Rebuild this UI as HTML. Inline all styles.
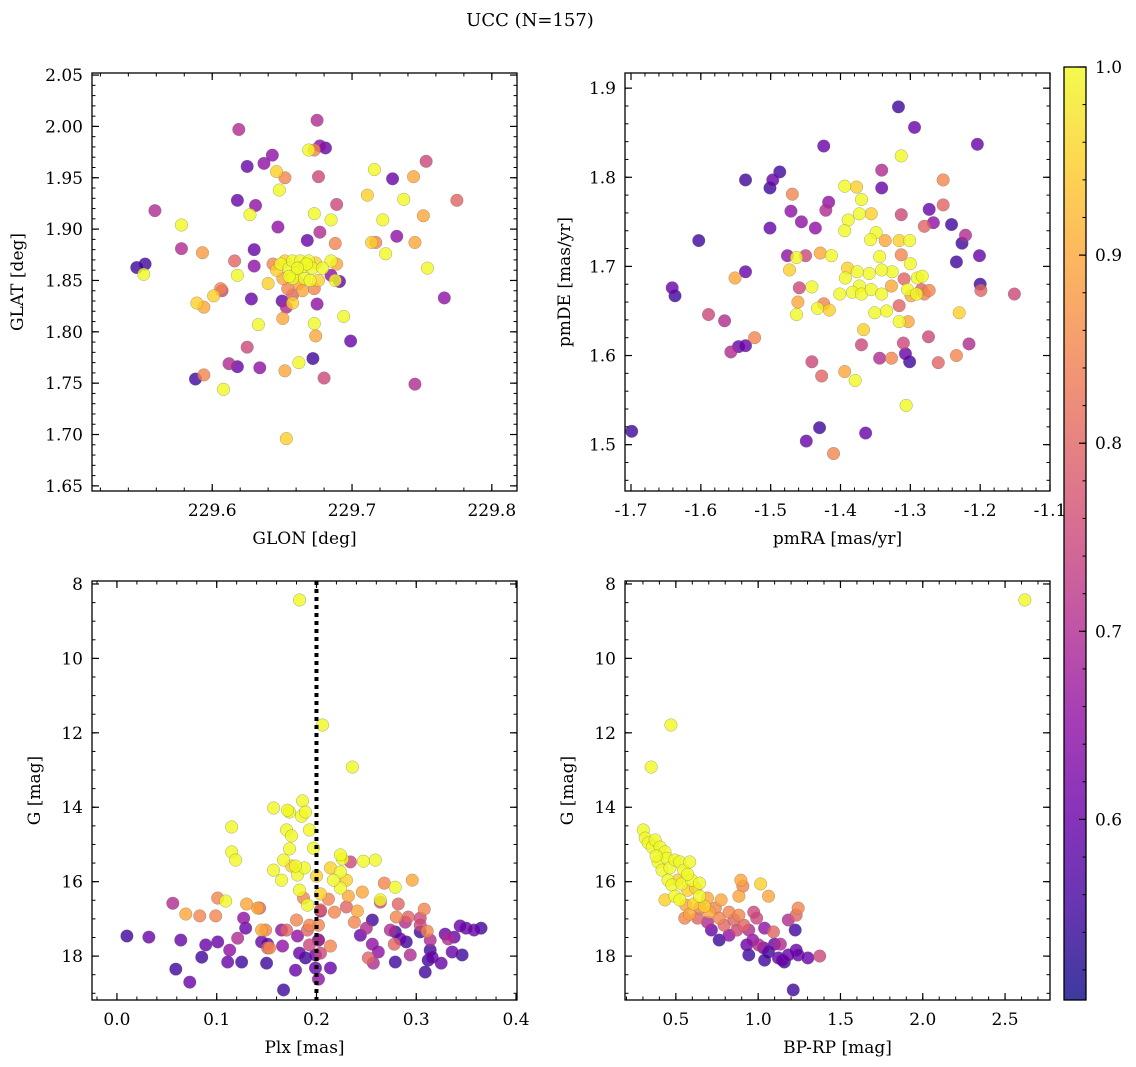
<!DOCTYPE html>
<html><head><meta charset="utf-8">
<style>
html,body{margin:0;padding:0;background:#fff;}
svg{display:block;font-family:"DejaVu Serif","Liberation Serif",serif;}
</style></head>
<body>
<svg id="chart" width="1136" height="1067" viewBox="0 0 1136 1067" xmlns="http://www.w3.org/2000/svg">
<text x="530" y="26" font-size="18" text-anchor="middle">UCC (N=157)</text>
<defs>
<linearGradient id="cbgrad" x1="0" y1="1" x2="0" y2="0">
<stop offset="0" stop-color="#0d0887"/><stop offset="0.1" stop-color="#41049d"/><stop offset="0.2" stop-color="#6a00a8"/><stop offset="0.3" stop-color="#8f0da4"/><stop offset="0.4" stop-color="#b12a90"/><stop offset="0.5" stop-color="#cc4778"/><stop offset="0.6" stop-color="#e16462"/><stop offset="0.7" stop-color="#f2844b"/><stop offset="0.8" stop-color="#fca636"/><stop offset="0.9" stop-color="#fcce25"/><stop offset="1" stop-color="#f0f921"/>
</linearGradient>
</defs>
</svg>
<script>
// ---- Panel 1 data: GLON / GLAT / probability
const glon = [229.546,229.552,229.551,229.559,229.578,229.578,229.593,229.589,229.594,229.601,229.606,229.607,229.588,229.594,229.608,229.612,229.618,229.616,229.618,229.619,229.618,229.625,229.627,229.631,229.630,229.630,229.628,229.633,229.625,229.634,229.637,229.643,229.646,229.648,229.652,229.647,229.650,229.653,229.652,229.653,229.662,229.672,229.669,229.673,229.675,229.677,229.681,229.676,229.673,229.677,229.668,229.685,229.689,229.688,229.685,229.689,229.685,229.688,229.691,229.675,229.673,229.674,229.680,229.694,229.699,229.711,229.716,229.714,229.717,229.722,229.724,229.729,229.732,229.737,229.744,229.745,229.745,229.751,229.753,229.754,229.775,229.766,
229.649,229.652,229.655,229.6575,229.660,229.663,229.666,229.669,229.6715,229.674,229.6575,229.662,229.666,229.670,229.6505,229.654,229.6645,229.673,229.646,229.6575,229.6675,229.679,229.676,229.655,229.661,229.6435,229.640,229.6575,229.6505];
const glat = [1.8626,1.866,1.856,1.918,1.904,1.881,1.877,1.828,1.824,1.835,1.842,1.840,1.754,1.758,1.744,1.769,1.766,1.869,1.855,1.997,1.928,1.961,1.914,1.923,1.880,1.864,1.832,1.807,1.785,1.765,1.964,1.972,1.956,1.938,1.950,1.902,1.830,1.824,1.762,1.696,1.770,1.774,1.977,1.977,2.006,1.981,1.979,1.951,1.915,1.897,1.889,1.909,1.924,1.886,1.869,1.866,1.855,1.850,1.849,1.827,1.808,1.796,1.755,1.815,1.791,1.933,1.958,1.887,1.887,1.909,1.876,1.949,1.893,1.929,1.951,1.887,1.749,1.913,1.966,1.862,1.928,1.833,
1.866,1.869,1.862,1.869,1.857,1.869,1.864,1.869,1.862,1.867,1.852,1.847,1.852,1.850,1.852,1.842,1.840,1.842,1.860,1.836,1.866,1.862,1.850,1.854,1.862,1.866,1.847,1.828,1.813];
const prob1 = [.55,.55,1,.7,1,.7,.88,.95,.9,.95,.85,.75,.55,.85,1,.7,.6,.8,1,.7,.6,.6,1,.65,.6,.65,.6,1,.75,.65,.65,.65,.95,1,.85,.65,.6,.7,.9,.95,1,.55,1,.85,.7,.65,.6,.75,1,.7,.6,1,.75,.85,1,.9,.65,1,.6,.65,1,.9,.75,1,.6,.95,1,.95,.85,1,1,.6,.65,1,.9,.9,.7,.9,.75,1,.8,.65,
1,.95,1,1,1,1,1,1,1,.95,1,.9,1,1,.9,.85,.9,.85,.95,.8,1,1,.95,1,1,.85,.95,.95,.9];

// ---- Panel 2 data: pmRA / pmDE / probability
const pmra = [-1.699,-1.641,-1.637,-1.603,-1.589,-1.566,-1.557,-1.546,-1.536,-1.536,-1.551,-1.536,-1.497,-1.501,-1.501,-1.523,-1.487,-1.476,-1.471,-1.469,-1.463,-1.473,-1.461,-1.463,-1.459,-1.449,-1.456,-1.436,-1.424,-1.417,-1.421,-1.429,-1.413,-1.441,-1.433,-1.424,-1.441,-1.427,-1.410,-1.416,-1.450,-1.430,
-1.394,-1.377,-1.370,-1.389,-1.394,-1.373,-1.356,-1.349,-1.357,-1.344,-1.336,-1.316,-1.301,-1.313,-1.326,-1.341,-1.359,-1.376,-1.390,-1.393,-1.373,-1.383,-1.401,-1.370,-1.356,-1.341,-1.327,-1.309,-1.290,-1.304,-1.299,-1.284,-1.316,-1.334,-1.351,-1.367,-1.379,-1.394,-1.370,-1.344,-1.327,-1.316,-1.303,-1.310,-1.307,-1.301,-1.306,-1.364,-1.341,-1.341,-1.317,-1.294,-1.313,-1.313,-1.280,-1.273,-1.267,-1.253,-1.253,-1.241,-1.221,-1.204,-1.234,-1.201,-1.200,-1.230,-1.274,-1.260,-1.234,-1.216,-1.226,-1.300,-1.283,-1.291,-1.280,-1.273,-1.151,-1.199];
const pmde = [1.515,1.676,1.667,1.729,1.646,1.639,1.604,1.610,1.611,1.694,1.687,1.797,1.797,1.788,1.743,1.620,1.806,1.712,1.762,1.781,1.710,1.696,1.660,1.646,1.676,1.504,1.750,1.743,1.835,1.772,1.763,1.715,1.712,1.677,1.653,1.658,1.593,1.577,1.490,1.651,1.712,1.519,
1.790,1.789,1.775,1.752,1.740,1.759,1.759,1.738,1.730,1.711,1.729,1.729,1.729,1.713,1.694,1.696,1.692,1.694,1.698,1.687,1.678,1.671,1.669,1.669,1.674,1.669,1.678,1.686,1.687,1.674,1.667,1.674,1.656,1.650,1.648,1.629,1.572,1.582,1.612,1.597,1.597,1.638,1.638,1.614,1.602,1.593,1.544,1.513,1.788,1.808,1.879,1.856,1.824,1.758,1.745,1.764,1.749,1.769,1.797,1.747,1.735,1.837,1.705,1.712,1.680,1.648,1.621,1.592,1.600,1.613,1.726,1.703,1.689,1.669,1.669,1.673,1.669,1.673];
const prob2 = [.55,.6,.55,.55,.75,.7,.7,.6,.6,.6,.9,.55,.6,.55,.6,.85,.55,.65,.65,.85,1,.95,.9,1,.75,.6,.65,.65,.6,.65,.7,.9,1,1,1,.85,.75,.8,.85,.95,.75,.55,
1,.95,1,1,1,1,.95,1,1,1,.9,.95,1,.85,1,1,1,1,.95,1,1,1,1,1,1,1,.9,.8,1,1,.9,.8,.8,1,1,.95,1,.9,.75,.7,.85,1,.9,.75,.6,.55,1,.6,.6,.7,.55,.6,1,.75,.8,.6,.65,.8,.85,.55,.7,.6,.55,.6,.55,.95,.75,.8,.85,.7,.55,1,1,1,.85,.85,.75,.8,.75,.8];

// ---- Panel 3 data: Plx / G / probability
const plx = [.056,.059,.073,.064,.069,.083,.099,.101,.121,.125,.127,.129,.145,.145,.151,.149,.153,.141,.151,.165,.166,.167,.179,.181,.183,.191,.193,.199,.199,.202,.214,.183,.187,.191,.181,.188,.179,.175,.165,.157,.167,.173,.170,.175,.173,.186,.185,.189,.193,.197,.200,.204,.204,.202,.202,.204,.212,.218,.224,.224,.226,.230,.232,.234,.241,.246,.247,.259,.264,.244,.250,.256,.252,.257,.262,.256,.274,.278,.279,.280,.282,.268,.264,.289,.284,.294,.290,.292,.304,.304,.308,.311,.314,.316,.332,.336,.338,.346,.350,.312,.183,.206,.236,.115,.119,.115,.130,.109,.143,.157,.171,.204,.085,.113,.111,.214,.217,.224,.193,.170,.180,.150,.214,.230,.238,.279,.296,.304,.325,.309,.329,.279,.314,.344,.189,.202,.089,.101,.010,.032,.365,.358];
const gmag3 = [16.58,18.35,18.70,17.57,16.87,16.92,16.92,16.44,17.52,18.16,16.98,17.25,17.30,17.62,17.68,17.30,17.78,16.71,17.78,17.30,17.73,18.91,18.38,17.46,17.92,17.30,17.70,17.97,18.32,18.62,18.32,16.23,16.44,16.63,15.82,15.63,15.58,15.58,15.96,15.69,15.42,15.12,14.61,14.77,14.13,13.83,14.24,14.13,14.61,15.10,15.85,16.33,16.76,17.17,17.57,17.92,16.47,16.82,16.17,15.74,15.39,15.96,16.39,15.47,16.79,16.28,15.45,15.42,16.55,17.44,17.25,17.03,18.05,18.19,17.89,17.68,17.30,17.68,18.16,16.95,16.60,16.04,16.49,17.09,17.54,17.97,17.62,16.95,16.98,17.17,16.74,17.33,17.57,18.03,17.54,17.89,17.49,17.97,17.25,18.11,8.43,11.79,12.92,15.20,15.42,14.53,16.60,16.52,16.71,14.02,14.08,16.79,18.03,17.84,18.16,15.63,15.96,15.28,17.17,17.30,17.03,18.19,17.73,16.68,17.09,16.15,15.96,17.35,18.19,18.43,17.41,17.35,17.84,17.19,18.05,17.57,17.70,17.62,17.46,17.49,17.25,17.30];
const prob3 = [.7,.55,.6,.6,.9,.85,.85,.85,.7,.55,.65,.6,.9,.6,.6,.85,.85,.9,.8,.65,.65,.55,.6,.65,.6,.8,.75,.6,.6,.65,.6,1,.85,1,1,1,1,.95,1,1,1,1,1,1,1,1,1,1,1,1,.95,.95,.8,.85,.7,.75,.85,.85,1,1,1,.95,.9,.75,.9,.9,1,1,.75,.6,.7,.55,.8,.7,.65,.65,.7,.8,.55,.85,.8,.85,1,.7,.6,.7,.55,.8,.75,.75,.85,.85,.7,.6,.7,.6,.6,.55,.6,.55,1,1,1,1,1,1,.9,1,.8,1,1,.65,.55,.65,.6,.95,1,1,.85,.8,.85,.55,.85,.8,.85,1,.9,.55,.6,.55,.6,.55,.55,.6,.55,.55,.6,.6,.55,.6,.55,.6,.6,.6];

// ---- Panel 4 data: BP-RP / G / probability
const bprp = [2.620,.470,.350,.302,.314,.332,.356,.374,.404,.434,.392,.416,.446,.464,.494,.524,.548,.452,.476,.512,.536,.572,.596,.620,.644,.494,.524,.560,.608,.644,.674,.704,.740,.775,.763,.793,.823,.853,.883,.895,.907,1.015,1.063,.871,.913,.943,.967,.931,1.003,1.033,1.063,1.099,1.123,1.147,1.159,1.213,1.225,1.231,1.243,1.302,1.374,1.243,1.231,1.183,1.093,.991,.823,.692,.716,.632,.584,.434,.554,.883,.973,1.039,1.135,1.183,1.039,.943,.763,.692,.644,.380,.584,.572];
const gmag4 = [8.43,11.79,12.92,14.61,14.83,14.96,15.07,14.88,15.07,15.20,15.47,15.69,15.37,15.63,15.42,15.47,15.69,15.96,16.09,15.96,16.06,16.23,15.96,16.17,16.39,16.39,16.49,16.63,16.60,16.71,16.66,16.82,16.71,16.49,16.98,17.17,16.82,17.03,16.90,15.96,16.12,16.06,16.39,17.30,17.17,17.30,17.57,17.70,17.70,17.78,17.89,17.68,18.05,18.11,18.16,18.91,17.30,17.84,17.97,18.05,18.00,16.71,16.90,17.03,17.35,16.98,17.44,17.09,17.30,16.98,16.87,16.49,16.98,16.39,16.82,17.25,17.68,17.97,18.11,17.97,17.57,16.44,16.04,15.31,15.47,15.80];
const prob4 = [1,1,1,1,1,1,1,1,1,1,1,1,1,1,1,1,1,1,1,.95,1,.95,1,.95,1,1,1,.9,.95,.85,.95,.9,.85,.9,.85,.8,.85,.8,.85,.9,.85,.95,.9,.75,.8,.7,.65,.6,.7,.6,.55,.6,.6,.6,.55,.55,.55,.6,.6,.6,.75,.85,.8,.7,.8,.75,.65,.7,.6,.8,.9,.95,.85,.9,.75,.65,.7,.6,.55,.55,.55,.9,1,1,1,1];

// ---- Colorbar ticks
const cbTicks = [0.6,0.7,0.8,0.9,1.0];

const NS = "http://www.w3.org/2000/svg";
const svg = document.getElementById('chart');
const VMIN = 0.504, VMAX = 1.0;
const FS = 17;
const stops = ["#0d0887","#41049d","#6a00a8","#8f0da4","#b12a90","#cc4778","#e16462","#f2844b","#fca636","#fcce25","#f0f921"];
function hex(h){return [parseInt(h.substr(1,2),16),parseInt(h.substr(3,2),16),parseInt(h.substr(5,2),16)];}
function plasma(v){
  let t=(v-VMIN)/(VMAX-VMIN); t=Math.max(0,Math.min(1,t));
  const f=t*10, i=Math.min(9,Math.floor(f)), r=f-i;
  const a=hex(stops[i]), b=hex(stops[i+1]);
  return `rgb(${Math.round(a[0]+(b[0]-a[0])*r)},${Math.round(a[1]+(b[1]-a[1])*r)},${Math.round(a[2]+(b[2]-a[2])*r)})`;
}
function mk(tag, attrs, parent){
  const e=document.createElementNS(NS,tag);
  for(const k in attrs) e.setAttribute(k,attrs[k]);
  (parent||svg).appendChild(e); return e;
}
function fmt(v,d){return v.toFixed(d);}

function panel(cfg){
  const g=mk('g',{});
  
  
  const {x0,x1,y0,y1}=cfg.box;
  const sx=v=>x0+(v-cfg.xd[0])/(cfg.xd[1]-cfg.xd[0])*(x1-x0);
  const sy=cfg.yinv ? (v=>y0+(v-cfg.yd[0])/(cfg.yd[1]-cfg.yd[0])*(y1-y0)) : (v=>y1-(v-cfg.yd[0])/(cfg.yd[1]-cfg.yd[0])*(y1-y0));
  const n=Math.min(cfg.xs.length,cfg.ys.length,cfg.ps.length);
  const idx=[]; for(let i=0;i<n;i++) idx.push(i);
  idx.sort((a,b)=>cfg.ps[a]-cfg.ps[b]);
  const pg=mk('g',{},g);
  
  
  idx.forEach(i=>{
    const c=mk('circle',{cx:sx(cfg.xs[i]),cy:sy(cfg.ys[i]),r:6.3,fill:plasma(cfg.ps[i]),'fill-opacity':0.8,stroke:'#666','stroke-width':0.4,'stroke-opacity':0.7},pg);
    
    
  });
  if(cfg.vline!==undefined){
    const l=mk('line',{x1:sx(cfg.vline),x2:sx(cfg.vline),y1:y0,y2:y1,stroke:'#000','stroke-width':4,'stroke-dasharray':'4 4'},g);
    
    
  }
  const fr=mk('rect',{x:x0,y:y0,width:x1-x0,height:y1-y0,fill:'none',stroke:'#000','stroke-width':1.3},g);
  
  
  const eps=1e-9;
  for(let v=Math.ceil(cfg.xd[0]/cfg.xmin-eps)*cfg.xmin; v<=cfg.xd[1]+eps; v+=cfg.xmin){
    const X=sx(v); mk('line',{x1:X,x2:X,y1:y1,y2:y1-3.5,stroke:'#000','stroke-width':1},g); mk('line',{x1:X,x2:X,y1:y0,y2:y0+3.5,stroke:'#000','stroke-width':1},g);
  }
  const ylo=Math.min(cfg.yd[0],cfg.yd[1]), yhi=Math.max(cfg.yd[0],cfg.yd[1]);
  for(let v=Math.ceil(ylo/cfg.ymin-eps)*cfg.ymin; v<=yhi+eps; v+=cfg.ymin){
    const Y=sy(v); mk('line',{x1:x0,x2:x0+3.5,y1:Y,y2:Y,stroke:'#000','stroke-width':1},g); mk('line',{x1:x1,x2:x1-3.5,y1:Y,y2:Y,stroke:'#000','stroke-width':1},g);
  }
  cfg.xt.forEach(v=>{
    const X=sx(v);
    mk('line',{x1:X,x2:X,y1:y1,y2:y1-7,stroke:'#000','stroke-width':1.2},g); mk('line',{x1:X,x2:X,y1:y0,y2:y0+7,stroke:'#000','stroke-width':1.2},g);
    const t=mk('text',{x:X,y:y1+25,'font-size':FS,'text-anchor':'middle'},g); t.textContent=fmt(v,cfg.xdec);
    
    
  });
  cfg.yt.forEach(v=>{
    const Y=sy(v);
    mk('line',{x1:x0,x2:x0+7,y1:Y,y2:Y,stroke:'#000','stroke-width':1.2},g); mk('line',{x1:x1,x2:x1-7,y1:Y,y2:Y,stroke:'#000','stroke-width':1.2},g);
    const t=mk('text',{x:x0-9,y:Y+6,'font-size':FS,'text-anchor':'end'},g); t.textContent=fmt(v,cfg.ydec);
    
    
  });
  const xl=mk('text',{x:(x0+x1)/2,y:y1+53,'font-size':FS,'text-anchor':'middle'},g); xl.textContent=cfg.xlabel;
  
  
  const yx=cfg.ylx, yy=(y0+y1)/2;
  const yl=mk('text',{x:yx,y:yy,'font-size':FS,'text-anchor':'middle',transform:`rotate(-90 ${yx} ${yy})`},g); yl.textContent=cfg.ylabel;
  
  
}

panel({name:'glon-glat-panel',box:{x0:92,x1:517,y0:73,y1:491},xd:[229.514,229.818],yd:[1.645,2.052],
  xs:glon,ys:glat,ps:prob1,xt:[229.6,229.7,229.8],xdec:1,yt:[1.65,1.70,1.75,1.80,1.85,1.90,1.95,2.00,2.05],ydec:2,
  xmin:0.02,ymin:0.01,xlabel:'GLON [deg]',ylabel:'GLAT [deg]',ylx:23});
panel({name:'pm-panel',box:{x0:625,x1:1050,y0:73,y1:491},xd:[-1.7086,-1.1],yd:[1.448,1.917],
  xs:pmra,ys:pmde,ps:prob2,xt:[-1.7,-1.6,-1.5,-1.4,-1.3,-1.2,-1.1],xdec:1,yt:[1.5,1.6,1.7,1.8,1.9],ydec:1,
  xmin:0.02,ymin:0.02,xlabel:'pmRA [mas/yr]',ylabel:'pmDE [mas/yr]',ylx:570});
panel({name:'plx-g-panel',box:{x0:92,x1:517,y0:581,y1:1000},xd:[-0.025,0.401],yd:[7.92,19.18],yinv:true,
  xs:plx,ys:gmag3,ps:prob3,xt:[0,0.1,0.2,0.3,0.4],xdec:1,yt:[8,10,12,14,16,18],ydec:0,
  xmin:0.02,ymin:0.5,xlabel:'Plx [mas]',ylabel:'G [mag]',ylx:40,vline:0.2});
panel({name:'cmd-panel',box:{x0:625,x1:1050,y0:581,y1:1000},xd:[0.191,2.773],yd:[7.92,19.18],yinv:true,
  xs:bprp,ys:gmag4,ps:prob4,xt:[0.5,1.0,1.5,2.0,2.5],xdec:1,yt:[8,10,12,14,16,18],ydec:0,
  xmin:0.1,ymin:0.5,xlabel:'BP-RP [mag]',ylabel:'G [mag]',ylx:573});

(function(){
  const g=mk('g',{});
  
  
  const x0=1064,x1=1086,y0=67,y1=1000;
  const sy=v=>y1-(v-VMIN)/(VMAX-VMIN)*(y1-y0);
  mk('rect',{x:x0,y:y0,width:x1-x0,height:y1-y0,fill:'url(#cbgrad)','fill-opacity':0.8},g);
  mk('rect',{x:x0,y:y0,width:x1-x0,height:y1-y0,fill:'none',stroke:'#000','stroke-width':1.3},g);
  for(let v=0.52; v<=1.0001; v+=0.02){ const Y=sy(v); mk('line',{x1:x1,x2:x1-3.5,y1:Y,y2:Y,stroke:'#000','stroke-width':1},g); }
  cbTicks.forEach(v=>{
    const Y=sy(v);
    mk('line',{x1:x1,x2:x1-7,y1:Y,y2:Y,stroke:'#000','stroke-width':1.2},g);
    const t=mk('text',{x:x1+9,y:Y+6,'font-size':FS},g); t.textContent=v.toFixed(1);
    
    
  });
})();
</script>
</body></html>
